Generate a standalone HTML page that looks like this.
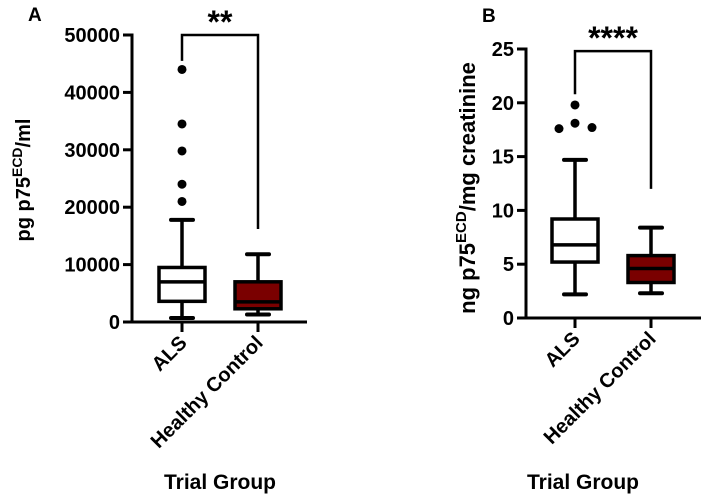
<!DOCTYPE html>
<html><head><meta charset="utf-8"><style>
html,body{margin:0;padding:0;background:#fff;}
svg{display:block;font-family:"Liberation Sans",Arial,sans-serif;font-weight:bold;}
</style></head><body>
<svg id="c" width="701" height="496" viewBox="0 0 701 496"></svg>
<script>
const categories = ["ALS", "Healthy Control"];
const statsA = [[700, 3600, 7000, 9500, 17800], [1300, 2300, 3500, 7000, 11800]];
const outliersA = [[44000, 34500, 29800, 24000, 21000], []];
const ticksA = [0, 10000, 20000, 30000, 40000, 50000];
const statsB = [[2.2, 5.2, 6.8, 9.2, 14.7], [2.3, 3.3, 4.6, 5.8, 8.4]];
const outliersB = [[19.8, 18.1, 17.6, 17.7], []];
const outlierOffsetsB = [[0, 0, -16, 17], []];
const ticksB = [0, 5, 10, 15, 20, 25];
const sigA = "**", sigB = "****";
const fills = ["#ffffff", "#7a0000"];

const NS = "http://www.w3.org/2000/svg";
const svg = document.getElementById("c");
function mk(tag, attrs, parent) {
  const e = document.createElementNS(NS, tag);
  for (const k in attrs) e.setAttribute(k, attrs[k]);
  (parent || svg).appendChild(e);
  return e;
}
function panel(p) {
  const g = mk("g", {});
  
  
  const y = v => p.y0 - (v / p.max) * (p.y0 - p.yTop);
  const x = i => p.xs[i];
  const ya = mk("line", {x1: p.ax, y1: y(p.max) - 1.5, x2: p.ax, y2: p.y0 + 1.5, stroke: "#000", "stroke-width": 3}, g);
  
  
  const xa = mk("line", {x1: p.ax, y1: p.y0, x2: p.axEnd, y2: p.y0, stroke: "#000", "stroke-width": 3}, g);
  
  
  p.ticks.forEach(t => {
    const l = mk("line", {x1: p.ax - 9, y1: y(t), x2: p.ax, y2: y(t), stroke: "#000", "stroke-width": 3}, g);
    
    
    const tx = mk("text", {x: p.ax - 12, y: y(t) + 7, "text-anchor": "end", "font-size": 20}, g);
    tx.textContent = t;
    
    
  });
  p.stats.forEach((s, i) => {
    const cx = x(i), hw = 23;
    const t = mk("line", {x1: cx, y1: p.y0, x2: cx, y2: p.y0 + 10, stroke: "#000", "stroke-width": 3}, g);
    
    
    const wk = mk("line", {x1: cx, y1: y(s[0]), x2: cx, y2: y(s[4]), stroke: "#000", "stroke-width": 3.5}, g);
    
    
    [s[0], s[4]].forEach(v => {
      const c = mk("line", {x1: cx - 11, y1: y(v), x2: cx + 11, y2: y(v), stroke: "#000", "stroke-width": 4, "stroke-linecap": "round"}, g);
      
      
    });
    const b = mk("rect", {x: cx - hw, y: y(s[3]), width: 2 * hw, height: y(s[1]) - y(s[3]), fill: fills[i], stroke: "#000", "stroke-width": 3.5}, g);
    
    
    const m = mk("line", {x1: cx - hw, y1: y(s[2]), x2: cx + hw, y2: y(s[2]), stroke: "#000", "stroke-width": 3.5}, g);
    
    
    p.outliers[i].forEach((v, j) => {
      const off = p.offsets ? p.offsets[i][j] : 0;
      const d = mk("circle", {cx: cx + off, cy: y(v), r: 4.5, fill: "#000"}, g);
      
      
    });
    const lab = mk("text", {x: 0, y: 0, "text-anchor": "end", "font-size": 20, transform: `translate(${cx + 6},${p.y0 + 22}) rotate(-45)`}, g);
    lab.textContent = categories[i];
    
    
  });
  const by = y(p.bracket[0]);
  const br = mk("polyline", {points: `${x(0)},${y(p.bracket[1])} ${x(0)},${by} ${x(1)},${by} ${x(1)},${y(p.bracket[2])}`, fill: "none", stroke: "#000", "stroke-width": 2.5}, g);
  
  
  const st = mk("text", {x: (x(0) + x(1)) / 2, y: by - 2, "text-anchor": "middle", "font-size": 32}, g);
  st.textContent = p.sig;
  
  
  const pl = mk("text", {x: p.letter[0], y: p.letter[1], "font-size": 19}, g);
  pl.textContent = p.letterText;
  
  
  const xt = mk("text", {x: p.xTitle, y: 489, "text-anchor": "middle", "font-size": 21}, g);
  xt.textContent = "Trial Group";
  
  
  const yt = mk("text", {x: 0, y: 0, "text-anchor": "middle", "font-size": p.yTitleSize, transform: `translate(${p.yTitle[0]},${p.yTitle[1]}) rotate(-90)`}, g);
  yt.innerHTML = p.yTitleHtml;
  
  
}
panel({name: "panel-a", ax: 132, axEnd: 307, y0: 322, yTop: 35, max: 50000, xs: [182, 258],
  stats: statsA, outliers: outliersA, ticks: ticksA, bracket: [50000, 45500, 16200], sig: sigA,
  letter: [28, 21], letterText: "A", xTitle: 220, yTitle: [30, 180], yTitleSize: 20,
  yTitleHtml: 'pg p75<tspan dy="-8" font-size="14">ECD</tspan><tspan dy="8">/ml</tspan>'});
panel({name: "panel-b", ax: 526, axEnd: 701, y0: 318, yTop: 49, max: 25, xs: [575, 651],
  stats: statsB, outliers: outliersB, offsets: outlierOffsetsB, ticks: ticksB, bracket: [24.8, 20.8, 12], sig: sigB,
  letter: [482, 22], letterText: "B", xTitle: 583, yTitle: [475, 188], yTitleSize: 22,
  yTitleHtml: 'ng p75<tspan dy="-9" font-size="15">ECD</tspan><tspan dy="9">/mg creatinine</tspan>'});
</script>
</body></html>
